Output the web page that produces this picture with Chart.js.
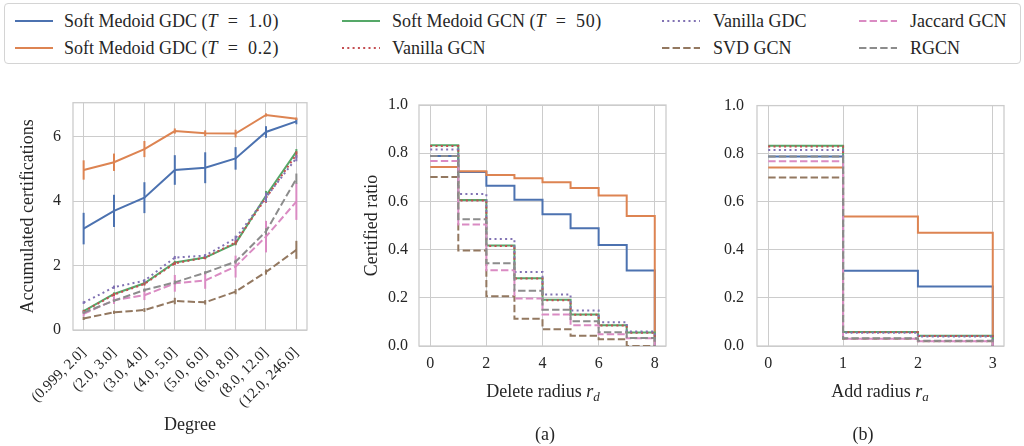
<!DOCTYPE html>
<html>
<head>
<meta charset="utf-8">
<script src="https://cdn.jsdelivr.net/npm/chart.js@4.4.1/dist/chart.umd.min.js"></script>
<style>
  body { margin: 0; width: 1024px; height: 446px; background: #fff; position: relative; overflow: hidden;
         font-family: "Liberation Serif", "Times New Roman", serif; color: #262626; }
  canvas { position: absolute; }
  #legend { position: absolute; left: 4px; top: 3px; width: 1017px; height: 61px; box-sizing: border-box;
            border: 1.5px solid #d4d4d4; border-radius: 4px; }
  .item { position: absolute; font-size: 18px; line-height: 20px; white-space: nowrap; }
  .item svg { position: absolute; top: 0; }
  .math { letter-spacing: 0.6px; }
  .label { position: absolute; font-size: 18px; line-height: 20px; white-space: nowrap; transform: translate(-50%, -50%); }
  .label sub { font-size: 13px; vertical-align: -4px; line-height: 0; }
</style>
</head>
<body>
<div id="legend"></div>
<canvas id="degree" width="330" height="365" style="left:0;top:81px"></canvas>
<canvas id="deleteRadius" width="340" height="363" style="left:340px;top:83px"></canvas>
<canvas id="addRadius" width="344" height="363" style="left:680px;top:83px"></canvas>
<div class="label" style="left:543px;top:391px">Delete radius <i>r</i><sub><i>d</i></sub></div>
<div class="label" style="left:880px;top:391px">Add radius <i>r</i><sub><i>a</i></sub></div>
<div class="label" style="left:545px;top:434px">(a)</div>
<div class="label" style="left:863px;top:434px">(b)</div>
<script>
// series (same order in all three panels)
const seriesNames = ["Soft Medoid GDC (T = 1.0)", "Soft Medoid GDC (T = 0.2)", "Soft Medoid GCN (T = 50)",
  "Vanilla GCN", "Vanilla GDC", "SVD GCN", "Jaccard GCN", "RGCN"]
const seriesColors = ["#4C72B0", "#DD8452", "#55A868", "#C44E52", "#8172B3", "#937860", "#DA8BC3", "#8C8C8C"]
const seriesDash = [[], [], [], [2, 3.3], [2, 3.3], [7.4, 3.2], [7.4, 3.2], [7.4, 3.2]]

// left: accumulated certifications per degree bin
const degreeBins = ["(0.999, 2.0]", "(2.0, 3.0]", "(3.0, 4.0]", "(4.0, 5.0]", "(5.0, 6.0]", "(6.0, 8.0]", "(8.0, 12.0]", "(12.0, 246.0]"]
const degreeTicks = [0, 2, 4, 6]
const accSmGdc10 = [3.15, 3.70, 4.11, 4.97, 5.04, 5.33, 6.15, 6.48]
const accSmGdc02 = [4.97, 5.21, 5.62, 6.18, 6.11, 6.10, 6.68, 6.56]
const accSmGcn = [0.59, 1.12, 1.45, 2.10, 2.25, 2.69, 4.17, 5.54]
const accVanillaGcn = [0.57, 1.10, 1.43, 2.07, 2.25, 2.72, 4.10, 5.45]
const accVanillaGdc = [0.85, 1.33, 1.53, 2.25, 2.31, 2.85, 4.12, 5.34]
const accSvdGcn = [0.36, 0.55, 0.62, 0.90, 0.86, 1.19, 1.80, 2.49]
const accJaccardGcn = [0.50, 0.93, 1.08, 1.45, 1.54, 1.97, 2.90, 3.99]
const accRgcn = [0.54, 0.91, 1.24, 1.48, 1.78, 2.12, 3.06, 4.70]
const errSmGdc10 = [0.49, 0.50, 0.48, 0.46, 0.48, 0.35, 0.18, 0.09]
const errSmGdc02 = [0.30, 0.27, 0.25, 0.08, 0.09, 0.12, 0.05, 0.04]
const errSmGcn = [0.04, 0.05, 0.05, 0.05, 0.05, 0.06, 0.15, 0.08]
const errVanillaGcn = [0.04, 0.05, 0.05, 0.05, 0.05, 0.07, 0.15, 0.10]
const errVanillaGdc = [0.04, 0.05, 0.05, 0.05, 0.05, 0.08, 0.15, 0.10]
const errSvdGcn = [0.05, 0.05, 0.06, 0.10, 0.07, 0.08, 0.08, 0.28]
const errJaccardGcn = [0.08, 0.12, 0.15, 0.26, 0.26, 0.34, 0.49, 0.57]
const errRgcn = [0.04, 0.04, 0.05, 0.06, 0.05, 0.06, 0.10, 0.16]

// (a): certified ratio vs delete radius
const deleteRadii = [0, 1, 2, 3, 4, 5, 6, 7, 8]
const deleteTicks = [0, 2, 4, 6, 8]
const delSmGdc10 = [0.788, 0.722, 0.665, 0.607, 0.547, 0.489, 0.419, 0.313, 0]
const delSmGdc02 = [0.743, 0.725, 0.710, 0.696, 0.679, 0.656, 0.624, 0.539, 0]
const delSmGcn = [0.833, 0.606, 0.417, 0.281, 0.192, 0.131, 0.086, 0.056, 0]
const delVanillaGcn = [0.830, 0.604, 0.415, 0.280, 0.190, 0.130, 0.085, 0.055, 0]
const delVanillaGdc = [0.815, 0.631, 0.444, 0.307, 0.214, 0.147, 0.099, 0.060, 0]
const delSvdGcn = [0.701, 0.396, 0.206, 0.113, 0.069, 0.043, 0.028, 0, 0]
const delJaccardGcn = [0.768, 0.504, 0.314, 0.197, 0.131, 0.086, 0.049, 0.032, 0]
const delRgcn = [0.788, 0.526, 0.343, 0.229, 0.150, 0.103, 0.057, 0.033, 0]

// (b): certified ratio vs add radius
const addRadii = [0, 1, 2, 3]
const addTicks = [0, 1, 2, 3]
const addSmGdc10 = [0.788, 0.313, 0.247, 0]
const addSmGdc02 = [0.743, 0.539, 0.471, 0]
const addSmGcn = [0.833, 0.058, 0.043, 0]
const addVanillaGcn = [0.830, 0.057, 0.042, 0]
const addVanillaGdc = [0.815, 0.055, 0.040, 0]
const addSvdGcn = [0.701, 0.030, 0.020, 0]
const addJaccardGcn = [0.768, 0.030, 0.020, 0]
const addRgcn = [0.788, 0.032, 0.022, 0]

const ratioTicks = [0, 0.2, 0.4, 0.6, 0.8, 1.0]

Chart.defaults.font.family = "'Liberation Serif', 'Times New Roman', serif"
Chart.defaults.color = "#262626"

const gridColor = "#cccccc"

// box around the plot area, like the seaborn whitegrid spines
const frame = {
  id: "frame",
  beforeDatasetsDraw(chart) {
    const { ctx, chartArea: a } = chart
    ctx.save()
    ctx.strokeStyle = gridColor
    ctx.lineWidth = 1.3
    ctx.strokeRect(a.left, a.top, a.width, a.height)
    ctx.restore()
  },
}

// vertical error bars, drawn right after their own line
const errorBars = {
  id: "errorBars",
  afterDatasetDraw(chart, args) {
    const ds = chart.data.datasets[args.index]
    if (!ds.errors) return
    const { x, y } = chart.scales
    const ctx = chart.ctx
    ctx.save()
    ctx.strokeStyle = ds.borderColor
    ctx.lineWidth = 2
    ds.data.forEach((p, i) => {
      const px = x.getPixelForValue(p.x)
      ctx.beginPath()
      ctx.moveTo(px, y.getPixelForValue(p.y - ds.errors[i]))
      ctx.lineTo(px, y.getPixelForValue(p.y + ds.errors[i]))
      ctx.stroke()
    })
    ctx.restore()
  },
}

function makeDatasets(xs, series, errors, stepped) {
  return series.map((values, i) => ({
    label: seriesNames[i],
    data: values.map((v, j) => ({ x: xs[j], y: v })),
    errors: errors ? errors[i] : null,
    borderColor: seriesColors[i],
    backgroundColor: seriesColors[i],
    borderDash: seriesDash[i],
    borderWidth: 2,
    pointRadius: 0,
    tension: 0,
    stepped: stepped ? "before" : false,
    order: series.length - 1 - i,
  }))
}

function fixedTicks(values) {
  return scale => { scale.ticks = values.map(v => ({ value: v })) }
}

function makeChart(id, cfg) {
  return new Chart(document.getElementById(id), {
    type: "line",
    data: { datasets: cfg.datasets },
    plugins: [frame, errorBars],
    options: {
      responsive: false,
      animation: false,
      devicePixelRatio: 1,
      layout: { padding: cfg.padding },
      plugins: { legend: { display: false }, tooltip: { enabled: false } },
      scales: {
        x: {
          type: "linear",
          min: cfg.xMin,
          max: cfg.xMax,
          afterBuildTicks: fixedTicks(cfg.xTicks),
          afterFit: scale => { scale.height = cfg.xHeight },
          grid: { color: gridColor, drawTicks: false },
          border: { display: false },
          ticks: {
            font: { size: cfg.xTickSize || 16 },
            padding: cfg.xPad || 8,
            autoSkip: false,
            minRotation: cfg.rotation || 0,
            maxRotation: cfg.rotation || 0,
            callback: cfg.xLabel || (v => String(v)),
          },
          title: cfg.xTitle ? { display: true, text: cfg.xTitle, font: { size: 18 }, padding: { bottom: 10 } } : { display: false },
        },
        y: {
          min: cfg.yMin,
          max: cfg.yMax,
          afterBuildTicks: fixedTicks(cfg.yTicks),
          afterFit: scale => { scale.width = cfg.yWidth },
          grid: { color: gridColor, drawTicks: false },
          border: { display: false },
          ticks: { font: { size: 16 }, padding: cfg.yPad, callback: cfg.yLabel || (v => String(v)) },
          title: cfg.yTitle ? { display: true, text: cfg.yTitle, font: { size: 18 }, padding: { top: cfg.yTitlePad } } : { display: false },
        },
      },
    },
  })
}

makeChart("degree", {
  datasets: makeDatasets(degreeBins.map((_, i) => i),
    [accSmGdc10, accSmGdc02, accSmGcn, accVanillaGcn, accVanillaGdc, accSvdGcn, accJaccardGcn, accRgcn],
    [errSmGdc10, errSmGdc02, errSmGcn, errVanillaGcn, errVanillaGdc, errSvdGcn, errJaccardGcn, errRgcn], false),
  padding: { top: 21.7, right: 23, left: 0, bottom: 0 },
  xMin: -0.35, xMax: 7.35, xTicks: degreeBins.map((_, i) => i), xHeight: 116,
  xLabel: v => degreeBins[v], rotation: 45, xTickSize: 15, xPad: 14,
  xTitle: "Degree",
  yMin: 0, yMax: 7.06, yTicks: degreeTicks, yWidth: 73, yPad: 12,
  yTitle: "Accumulated certifications", yTitlePad: 17,
})

makeChart("deleteRadius", {
  datasets: makeDatasets(deleteRadii,
    [delSmGdc10, delSmGdc02, delSmGcn, delVanillaGcn, delVanillaGdc, delSvdGcn, delJaccardGcn, delRgcn], null, true),
  padding: { top: 22, right: 14, left: 0, bottom: 0 },
  xMin: -0.4, xMax: 8.4, xTicks: deleteTicks, xHeight: 100,
  yMin: 0, yMax: 1, yTicks: ratioTicks, yWidth: 79, yPad: 11, yLabel: v => v.toFixed(1),
  yTitle: "Certified ratio", yTitlePad: 21,
})

makeChart("addRadius", {
  datasets: makeDatasets(addRadii,
    [addSmGdc10, addSmGdc02, addSmGcn, addVanillaGcn, addVanillaGdc, addSvdGcn, addJaccardGcn, addRgcn], null, true),
  padding: { top: 22, right: 20, left: 0, bottom: 0 },
  xMin: -0.15, xMax: 3.15, xTicks: addTicks, xHeight: 100,
  yMin: 0, yMax: 1, yTicks: ratioTicks, yWidth: 77, yPad: 13, yLabel: v => v.toFixed(1),
})

// legend: four columns, filled column by column like matplotlib
const legendCols = [13, 340, 660, 857]
const legendRows = [10, 37]
const legendEl = document.getElementById("legend")
seriesNames.forEach((name, i) => {
  const col = Math.floor(i / 2), row = i % 2
  const item = document.createElement("div")
  item.className = "item"
  item.style.left = (legendCols[col] - 4) + "px"
  item.style.top = (legendRows[row] - 3) + "px"
  const dash = seriesDash[i].length ? `stroke-dasharray="${seriesDash[i].join(" ")}"` : ""
  const text = name.replace(/T = ([0-9.]+)/, '<span class="math"><i>T</i>&ensp;=&ensp;$1</span>')
  item.innerHTML =
    `<svg width="40" height="20" style="left:0"><line x1="1" y1="10" x2="39" y2="10" stroke="${seriesColors[i]}" stroke-width="2.2" ${dash}/></svg>` +
    `<span style="position:absolute;left:${col === 0 ? 50 : (col === 1 ? 51 : 52)}px;top:0">${text}</span>`
  legendEl.appendChild(item)
})
</script>
</body>
</html>
